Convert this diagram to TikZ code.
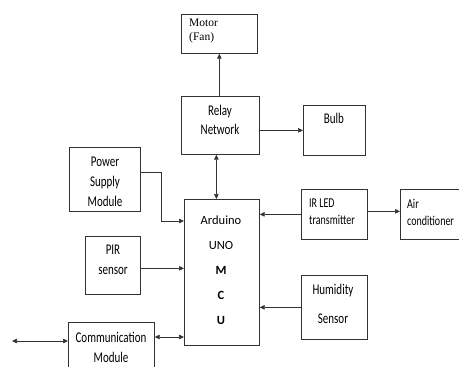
\documentclass[tikz,border=0pt]{standalone}
\usepackage{fontspec}
\setmainfont{Carlito}
\newfontfamily\timesfont{Liberation Serif}
\usetikzlibrary{arrows.meta}

\definecolor{ln}{RGB}{50,50,50}

\tikzset{
  blk/.style={draw=ln, rectangle, anchor=north west, inner sep=0pt, line width=0.7pt},
  lbl/.style={align=center, inner sep=0pt, text=black, font=\fontsize{11}{20}\selectfont},
  tall/.style={yscale=1.35, transform shape},
  arr/.style={draw=ln, line width=0.7pt, -{Triangle[length=5pt,width=4.5pt]}},
  darr/.style={draw=ln, line width=0.7pt, {Triangle[length=5pt,width=4.5pt]}-{Triangle[length=5pt,width=4.5pt]}}
}

\begin{document}
\begin{tikzpicture}[x=1pt, y=-1pt]
\useasboundingbox (0,0) rectangle (459,367);
\clip (0,0) rectangle (459,367);

% blocks
\node[blk, minimum width=76pt, minimum height=39pt]  (motor) at (181,14)  {};
\node[blk, minimum width=78pt, minimum height=58pt]  (relay) at (181,96)  {};
\node[blk, minimum width=62pt, minimum height=50pt]  (bulb)  at (303,105) {};
\node[blk, minimum width=71pt, minimum height=64pt]  (power) at (69,147)  {};
\node[blk, minimum width=75pt, minimum height=146pt] (ard)   at (184,199) {};
\node[blk, minimum width=66pt, minimum height=50pt]  (ir)    at (301,189) {};
\node[blk, minimum width=62pt, minimum height=50pt]  (air)   at (400,189) {};
\node[blk, minimum width=55pt, minimum height=58pt]  (pir)   at (85,236)  {};
\node[blk, minimum width=66pt, minimum height=64pt]  (hum)   at (301,275) {};
\node[blk, minimum width=86pt, minimum height=55pt]  (comm)  at (68,322)  {};

% texts
\node[lbl, anchor=west, align=left, font=\timesfont\fontsize{11.5}{14}\selectfont] (motortxt) at (189,31) {Motor\\(Fan)};
\node[lbl, tall, font=\fontsize{11}{14}\selectfont] (relaytxt) at (220,120) {Relay\\Network};
\node[lbl, tall] (bulbtxt)  at (334,118) {Bulb};
\node[lbl, tall, font=\fontsize{11}{14.8}\selectfont] (powertxt) at (105,182) {Power\\Supply\\Module};
\node[lbl, font=\fontsize{12.5}{25}\selectfont] (ardtxt) at (221,270) {Arduino\\UNO\\\textbf{M}\\\textbf{C}\\\textbf{U}};
\node[lbl, tall, anchor=west, align=left, font=\fontsize{10}{12.6}\selectfont] (irtxt)  at (309,212) {IR LED\\transmitter};
\node[lbl, tall, anchor=west, align=left, font=\fontsize{10}{12.6}\selectfont] (airtxt) at (407,212) {Air\\conditioner};
\node[lbl, tall, font=\fontsize{11}{14.8}\selectfont] (pirtxt)  at (113,260) {PIR\\sensor};
\node[lbl, tall, font=\fontsize{11}{21.5}\selectfont] (humtxt) at (333,304) {Humidity\\Sensor};
\node[lbl, tall, font=\fontsize{11}{14.8}\selectfont] (commtxt) at (111,347) {Communication\\Module};

% connections
\coordinate (pbend) at (161,221);
\coordinate (ext) at (12,341);

\draw[arr]  (motor.south |- relay.north) -- (motor.south);
\draw[arr]  ([yshift=-5pt]relay.east) -- ([yshift=-5pt]relay.east -| bulb.west);
\draw[darr] ([xshift=-4pt]relay.south) -- ([xshift=-4pt]relay.south |- ard.north);
\draw[arr]  ([yshift=7pt]power.east) -| (pbend) -- (pbend -| ard.west);
\draw[arr]  ([yshift=-3pt]pir.east) -- ([yshift=-3pt]pir.east -| ard.west);
\draw[arr]  (ir.west) -- (ir.west -| ard.east);
\draw[arr]  ([yshift=3pt]ir.east) -- ([yshift=3pt]ir.east -| air.west);
\draw[arr]  (hum.west) -- (hum.west -| ard.east);
\draw[darr] ([yshift=-15pt]comm.north east) -- ([yshift=-15pt]comm.north east -| ard.west);
\draw[darr] (ext) -- (ext -| comm.west);

\end{tikzpicture}
\end{document}
